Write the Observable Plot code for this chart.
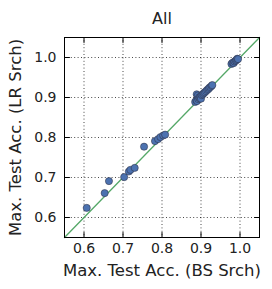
<!DOCTYPE html>
<html>
<head>
<meta charset="utf-8">
<script src="https://cdn.jsdelivr.net/npm/d3@7"></script>
<script src="https://cdn.jsdelivr.net/npm/@observablehq/plot@0.6"></script>
<style>
  html, body { margin: 0; padding: 0; background: #fff; }
  #chart svg { display: block; }
</style>
</head>
<body>
<div id="chart"></div>
<script>
const title = "All";
const xLabel = "Max. Test Acc. (BS Srch)";
const yLabel = "Max. Test Acc. (LR Srch)";
const axisDomain = [0.55, 1.05];
const tickValues = [0.6, 0.7, 0.8, 0.9, 1.0];
const tickLabels = ["0.6", "0.7", "0.8", "0.9", "1.0"];

const bsAcc = [0.607, 0.653, 0.664, 0.703, 0.715, 0.719, 0.730, 0.754, 0.782, 0.790, 0.796, 0.803, 0.808,
  0.885, 0.888, 0.889, 0.890, 0.892, 0.893, 0.895, 0.897, 0.899, 0.900, 0.902, 0.905, 0.907, 0.910, 0.913, 0.916, 0.919, 0.921, 0.924, 0.927, 0.929,
  0.978, 0.981, 0.984, 0.986, 0.989, 0.991, 0.993, 0.995];
const lrAcc = [0.624, 0.661, 0.691, 0.701, 0.715, 0.719, 0.724, 0.777, 0.791, 0.796, 0.801, 0.805, 0.807,
  0.889, 0.893, 0.908, 0.891, 0.905, 0.896, 0.900, 0.898, 0.903, 0.897, 0.906, 0.908, 0.911, 0.913, 0.916, 0.919, 0.921, 0.924, 0.926, 0.929, 0.931,
  0.984, 0.987, 0.986, 0.990, 0.992, 0.994, 0.997, 0.996];

const pts = bsAcc.map((x, i) => ({x, y: lrAcc[i]}));
const fmt = d => tickLabels[tickValues.indexOf(d)];

const tickShape = {draw(ctx, l) { ctx.moveTo(0, 0); ctx.lineTo(0, -l); }};
const tickLen = 5;

const chart = Plot.plot({
  width: 272,
  height: 289,
  marginLeft: 64,
  marginRight: 13,
  marginTop: 37,
  marginBottom: 52,
  style: {fontFamily: "DejaVu Sans", fontSize: "14px", color: "#222", background: "white"},
  x: {domain: axisDomain},
  y: {domain: axisDomain},
  marks: [
    Plot.gridX(tickValues, {stroke: "black", strokeOpacity: 0.9, strokeWidth: 0.8, strokeDasharray: "1,2.4"}),
    Plot.gridY(tickValues, {stroke: "black", strokeOpacity: 0.9, strokeWidth: 0.8, strokeDasharray: "1,2.4"}),
    Plot.axisX(tickValues, {tickSize: 0, tickPadding: 6, tickFormat: fmt, fontSize: 14, label: null, fill: "#222"}),
    Plot.axisY(tickValues, {tickSize: 0, tickPadding: 8, tickFormat: fmt, fontSize: 14, label: null, fill: "#222"}),
    Plot.vector(tickValues, {x: d => d, frameAnchor: "bottom", rotate: 0, length: tickLen, anchor: "start", shape: tickShape, stroke: "black", strokeWidth: 1}),
    Plot.vector(tickValues, {x: d => d, frameAnchor: "top", rotate: 180, length: tickLen, anchor: "start", shape: tickShape, stroke: "black", strokeWidth: 1}),
    Plot.vector(tickValues, {y: d => d, frameAnchor: "left", rotate: 90, length: tickLen, anchor: "start", shape: tickShape, stroke: "black", strokeWidth: 1}),
    Plot.vector(tickValues, {y: d => d, frameAnchor: "right", rotate: -90, length: tickLen, anchor: "start", shape: tickShape, stroke: "black", strokeWidth: 1}),
    Plot.line(axisDomain, {x: d => d, y: d => d, stroke: "#55A868", strokeWidth: 1.3}),
    Plot.dot(pts, {x: "x", y: "y", r: 3.6, fill: "#4C72B0", stroke: "#2a2a3a", strokeWidth: 0.5}),
    Plot.frame({stroke: "black", strokeWidth: 1}),
    Plot.text([title], {frameAnchor: "top", lineAnchor: "middle", dy: -19, fontSize: 16, fill: "#222"}),
    Plot.text([xLabel], {frameAnchor: "bottom", lineAnchor: "middle", dy: 33, fontSize: 16.5, fill: "#222"}),
    Plot.text([yLabel], {frameAnchor: "left", textAnchor: "middle", lineAnchor: "middle", rotate: -90, dx: -49, fontSize: 16.5, fill: "#222"})
  ]
});
document.getElementById("chart").appendChild(chart);
</script>
</body>
</html>
